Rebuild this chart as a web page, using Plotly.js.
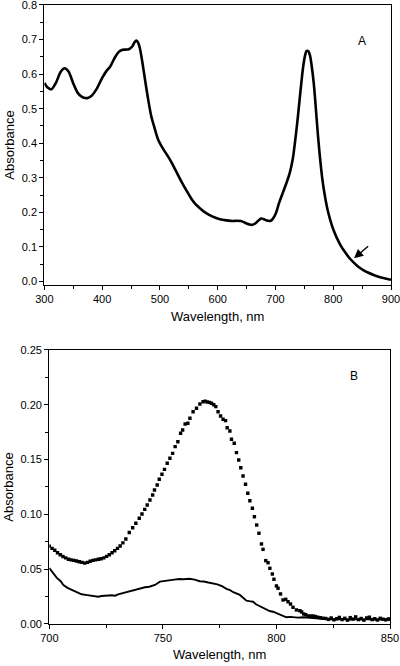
<!DOCTYPE html>
<html>
<head>
<meta charset="utf-8">
<script src="https://cdn.plot.ly/plotly-3.0.1.min.js"></script>
<style>
html,body{margin:0;padding:0;background:#fff;}
#chart{width:400px;height:666px;}
</style>
</head>
<body>
<div id="chart"></div>
<script>
// Panel A: absorption spectrum 300-900 nm
const wavelengthA = [300,305,312,320,328,335,342,350,358,365,370,375,380,390,400,407,414,421,428,434,440,446,452,456,459,462,465,470,475,480,485,490,497,505,512,520,528,537,545,555,562,570,578,586,595,604,615,626,633,640,645,650,655,659,663,667,671,675,679,684,689,693,697,701,706,713,719,725,730,735,739,742,745,748,751,754,757,760,763,766,769,772,775,778,781,785,790,795,800,806,812,820,828,836,844,852,860,870,880,890,900];
const absorbanceA = [0.575,0.562,0.556,0.575,0.606,0.617,0.607,0.573,0.545,0.534,0.531,0.531,0.535,0.556,0.589,0.608,0.622,0.645,0.663,0.670,0.671,0.672,0.680,0.692,0.697,0.692,0.677,0.630,0.575,0.523,0.478,0.448,0.410,0.385,0.367,0.345,0.319,0.290,0.266,0.238,0.223,0.211,0.200,0.192,0.185,0.180,0.177,0.175,0.176,0.175,0.172,0.168,0.165,0.164,0.166,0.171,0.177,0.182,0.181,0.177,0.175,0.177,0.185,0.199,0.226,0.258,0.285,0.316,0.355,0.420,0.480,0.530,0.578,0.622,0.652,0.667,0.666,0.652,0.620,0.578,0.520,0.455,0.395,0.343,0.298,0.253,0.209,0.177,0.151,0.127,0.107,0.086,0.068,0.054,0.042,0.033,0.026,0.019,0.013,0.009,0.005];

// Panel B: dotted series (squares)
const wavelengthB1 = [700,701.2,702.4,703.6,704.8,706,707.2,708.4,709.6,710.8,712,713.2,714.4,715.6,716.8,718,719.2,720.4,721.6,722.8,724,725.2,726.4,727.6,728.8,730,731.2,732.4,733.7,735.2,736.7,738.1,739.6,740.8,742.0,743.1,744.3,745.5,746.3,747.5,748.4,749.6,750.7,751.9,753.1,754.3,755.4,756.6,757.8,758.7,759.8,761.0,761.9,763.3,764.8,766.3,767.7,768.6,769.5,770.5,771.4,772.4,773.3,774.3,775.4,776.5,777.6,778.3,779.5,780.2,781.4,782.4,783.4,784.3,785.3,786.4,787.4,788.3,789.4,790.3,791.3,792.3,793.4,794.1,795.3,796.3,797.1,798.2,798.9,800.0,800.7,801.8,802.9,804.1,805.1,806.2,807.3,808.8,810.3,811.1,812.0,812.9,813.9,815.0,816.1,817.2,818.3,819.4,820.5,821.7,822.9,824.1,825.3,826.5,827.7,828.9,830.1,831.3,832.5,833.7,834.9,836.1,837.3,838.5,839.7,840.9,842.1,843.3,844.5,845.7,846.9,848.1,849.3,850];
const absorbanceB1 = [0.071,0.069,0.0672,0.065,0.0632,0.0615,0.0603,0.059,0.0585,0.058,0.0575,0.0568,0.0562,0.0555,0.0562,0.0572,0.058,0.0585,0.059,0.0595,0.0603,0.0617,0.0632,0.065,0.0668,0.069,0.0712,0.074,0.0775,0.0835,0.0878,0.0919,0.0964,0.1004,0.1046,0.1086,0.1131,0.1177,0.1223,0.1268,0.132,0.1366,0.1411,0.1466,0.1512,0.1557,0.1618,0.1663,0.174,0.177,0.1825,0.1831,0.1877,0.1937,0.1968,0.2007,0.2028,0.2033,0.2025,0.2022,0.2014,0.2000,0.1983,0.1937,0.1898,0.1868,0.1855,0.1791,0.1761,0.1685,0.1649,0.1563,0.1496,0.1426,0.135,0.1275,0.1193,0.1125,0.1056,0.0979,0.0903,0.0828,0.073,0.0681,0.0578,0.0559,0.0508,0.0456,0.0408,0.0347,0.0326,0.0274,0.0219,0.0225,0.0203,0.0182,0.0152,0.0128,0.0121,0.011,0.0091,0.0085,0.0073,0.0072,0.0073,0.0068,0.0061,0.0057,0.0052,0.0050,0.0042,0.0055,0.0038,0.0048,0.0060,0.0040,0.0052,0.0035,0.0058,0.0045,0.0065,0.0040,0.0050,0.0035,0.0055,0.0062,0.0040,0.0048,0.0036,0.0052,0.0044,0.0038,0.0046,0.0042];

// Panel B: solid series
const wavelengthB2 = [700,701.5,703.3,705,706.2,708,709.9,712,714.2,716,717.2,719,721.5,723,724.5,726,727.4,729,730.3,732,734,736,737.7,740,742.1,744,746.5,748.7,750.9,753,755,757.3,759,761.7,764,766.2,768,770,772,774,776,778,779.5,781,783.9,785.5,786.8,788,789.7,791,792.6,794,795.6,797,798.5,800,801.4,803,804.4,806,807.3,809.5,811.7,814,817.6,820,823.4,826,829,832,835,838,841,844,847,850];
const absorbanceB2 = [0.051,0.047,0.042,0.039,0.0356,0.033,0.031,0.029,0.0271,0.0265,0.0262,0.0258,0.0249,0.0255,0.0255,0.026,0.0262,0.0258,0.0271,0.028,0.0295,0.030,0.031,0.032,0.0335,0.034,0.0356,0.0386,0.0395,0.0398,0.0405,0.041,0.0408,0.0413,0.0405,0.039,0.0388,0.0378,0.037,0.0362,0.0345,0.032,0.031,0.029,0.0265,0.024,0.0213,0.0208,0.0203,0.018,0.0164,0.0145,0.0128,0.0118,0.0112,0.0100,0.0091,0.0075,0.0061,0.0065,0.0061,0.0058,0.0061,0.0055,0.0052,0.0048,0.0043,0.0040,0.0046,0.0038,0.0044,0.0040,0.0046,0.0038,0.0042,0.0037];

const tickValsAx = [300,400,500,600,700,800,900];
const tickLabelsAx = ['300','400','500','600','700','800','900'];
const tickLabelsAy = ['0.0','0.1','0.2','0.3','0.4','0.5','0.6','0.7','0.8'];
const tickValsBx = [700,750,800,850];
const tickLabelsBx = ['700','750','800','850'];
const tickLabelsBy = ['0.00','0.05','0.10','0.15','0.20','0.25'];

const FONT = 'Liberation Sans, Arial, sans-serif';

const traces = [
  {x: wavelengthA, y: absorbanceA, xaxis:'x', yaxis:'y', type:'scatter', mode:'lines',
   line:{color:'#000', width:2.6, shape:'spline', smoothing:0.8}, showlegend:false, hoverinfo:'skip'},
  {x: wavelengthB1, y: absorbanceB1, xaxis:'x2', yaxis:'y2', type:'scatter', mode:'markers',
   marker:{symbol:'square', size:3.4, color:'#000', line:{width:0}}, showlegend:false, hoverinfo:'skip'},
  {x: wavelengthB2, y: absorbanceB2, xaxis:'x2', yaxis:'y2', type:'scatter', mode:'lines',
   line:{color:'#000', width:1.9}, showlegend:false, hoverinfo:'skip'}
];

const axisCommon = {
  showline:true, linecolor:'#000', linewidth:1.2, mirror:true,
  ticks:'outside', ticklen:4, tickwidth:1, tickcolor:'#000',
  showgrid:false, zeroline:false, ticklabeloverflow:'allow',
  tickfont:{family:FONT, size:11, color:'#000'}
};

const layout = {
  width:400, height:666,
  margin:{l:0, r:0, t:0, b:0},
  paper_bgcolor:'#fff', plot_bgcolor:'#fff',
  font:{family:FONT, color:'#000'},
  xaxis: Object.assign({}, axisCommon, {
    domain:[0.111, 0.9775], anchor:'y', range:[300,900],
    tickvals:tickValsAx, ticktext:tickLabelsAx,
    minor:{ticks:'outside', ticklen:3, dtick:50, tickcolor:'#000'},
    title:{text:'Wavelength, nm', font:{family:FONT, size:13, color:'#000'}, standoff:7}
  }),
  yaxis: Object.assign({}, axisCommon, {
    domain:[0.5721, 0.9925], anchor:'x', range:[-0.01,0.8],
    tickvals:[0,0.1,0.2,0.3,0.4,0.5,0.6,0.7,0.8], ticktext:tickLabelsAy,
    minor:{ticks:'outside', ticklen:3, dtick:0.05, tickcolor:'#000'},
    title:{text:'Absorbance', font:{family:FONT, size:13, color:'#000'}, standoff:4}
  }),
  xaxis2: Object.assign({}, axisCommon, {
    domain:[0.1233, 0.975], anchor:'y2', range:[700,850],
    tickvals:tickValsBx, ticktext:tickLabelsBx,
    minor:{ticks:'outside', ticklen:3, dtick:25, tickcolor:'#000'},
    title:{text:'Wavelength, nm', font:{family:FONT, size:13, color:'#000'}, standoff:6}
  }),
  yaxis2: Object.assign({}, axisCommon, {
    domain:[0.0631, 0.4745], anchor:'x2', range:[0,0.25],
    tickvals:[0,0.05,0.1,0.15,0.2,0.25], ticktext:tickLabelsBy,
    minor:{ticks:'outside', ticklen:3, dtick:0.025, tickcolor:'#000'},
    title:{text:'Absorbance', font:{family:FONT, size:13, color:'#000'}, standoff:4}
  }),
  annotations:[
    {xref:'paper', yref:'paper', x:0.92, y:0.952, text:'A', showarrow:false,
     font:{family:FONT, size:12, color:'#000'}},
    {xref:'paper', yref:'paper', x:0.90, y:0.4354, text:'B', showarrow:false,
     font:{family:FONT, size:12, color:'#000'}},
    {xref:'x', yref:'y', axref:'x', ayref:'y', x:836, y:0.067, ax:863, ay:0.106,
     text:'', showarrow:true, arrowhead:2, arrowsize:1.3, arrowwidth:1.4, arrowcolor:'#000'}
  ]
};

Plotly.newPlot('chart', traces, layout, {staticPlot:true, displayModeBar:false});
</script>
</body>
</html>
